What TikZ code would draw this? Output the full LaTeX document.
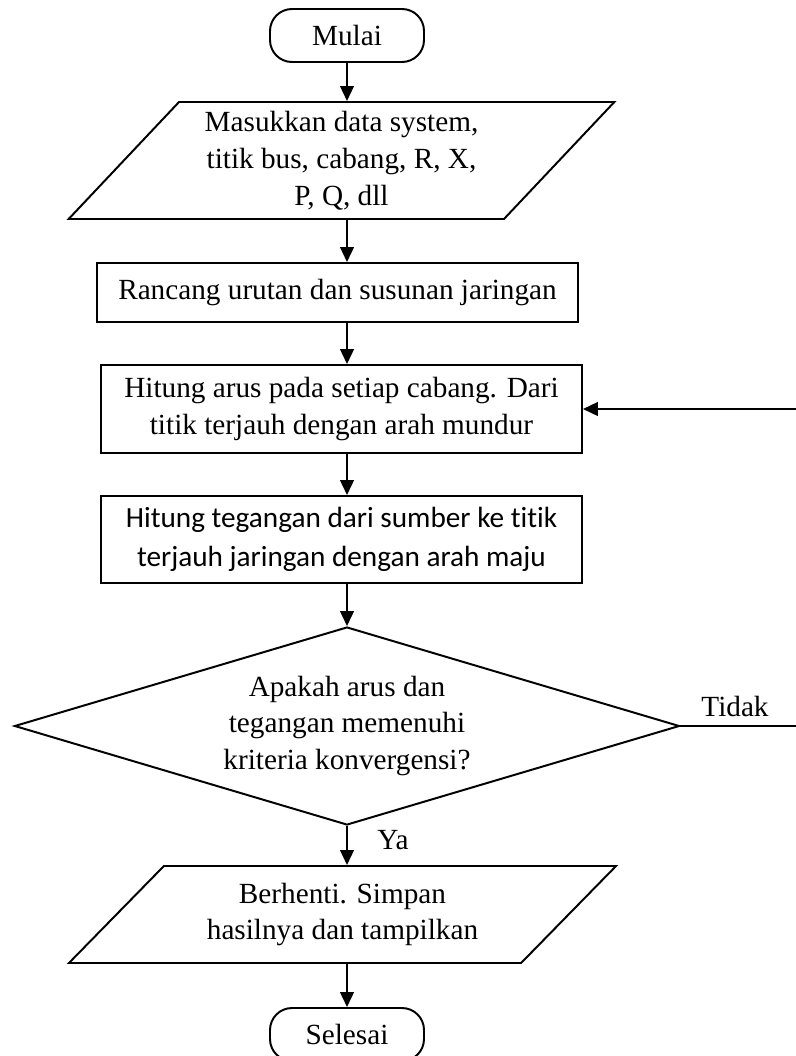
\documentclass[tikz,border=0pt]{standalone}
\usepackage{fontspec}
\setmainfont{Liberation Serif}
\newfontfamily\calibri[Ligatures=NoCommon]{Carlito}
\usetikzlibrary{shapes.geometric,arrows.meta}

\begin{document}
\begin{tikzpicture}[line width=1.4pt, font=\fontsize{20.8}{26.3}\selectfont,
    terminal/.style={draw, rectangle, rounded corners=0.55cm, minimum width=3.85cm, minimum height=1.325cm, inner sep=0pt},
    proses/.style={draw, rectangle, align=center, inner sep=0pt, minimum width=12.025cm},
    datain/.style={draw, trapezium, trapezium stretches=true, align=center, inner sep=0pt},
    keputusan/.style={draw, diamond, aspect=3.36, align=center, inner sep=0pt, minimum width=16.625cm, minimum height=4.95cm},
    panah/.style={-{Triangle[length=0.37cm,width=0.34cm]}},
    cabang/.style={inner sep=0pt}]
      \useasboundingbox (0,0) rectangle (19.875,-26.4);

      % Awal dan masukan
      \node (mulai) at (8.675,-0.8875) [terminal] {Mulai};
      \node (masuk) at (8.5375,-4.0125) [datain, trapezium left angle=46.8, trapezium right angle=133.2,
        minimum width=13.675cm, minimum height=2.925cm] {Masukkan data system,\\titik bus, cabang, R, X,\\P, Q, dll};

      % Proses
      \node (rancang) at (8.4375,-7.3125) [proses, minimum height=1.475cm] {Rancang urutan dan susunan jaringan};
      \node (hitung) at (8.5375,-10.225) [proses, minimum height=2.2cm] {Hitung arus pada setiap cabang. Dari\\titik terjauh dengan arah mundur};
      \node (tegangan) at (8.5375,-13.4875) [proses, minimum height=2.175cm,
        font=\calibri\fontsize{20.8}{28}\selectfont] {Hitung tegangan dari sumber ke titik\\terjauh jaringan dengan arah maju};

      % Keputusan
      \node (cek) at (8.675,-18.15) [keputusan] {Apakah arus dan\\tegangan memenuhi\\kriteria konvergensi?};

      % Akhir
      \node (berhenti) at (8.5625,-22.8625) [datain, trapezium left angle=41.4, trapezium right angle=138.6,
        minimum width=13.725cm, minimum height=2.425cm] {Berhenti. Simpan\\hasilnya dan tampilkan};
      \node (selesai) at (8.675,-25.8625) [terminal] {Selesai};

      % Label cabang
      \node (ya) at (9.825,-21.0) [cabang] {Ya};
      \node (tidak) at (18.375,-17.65) [cabang] {Tidak};
      \coordinate (balik) at (20,-10.225);

      % Panah
      \draw[panah] (mulai) -- (mulai |- masuk.north);
      \draw[panah] (masuk.south -| mulai) -- (rancang.north -| mulai);
      \draw[panah] (rancang.south -| mulai) -- (hitung.north -| mulai);
      \draw[panah] (hitung.south -| mulai) -- (tegangan.north -| mulai);
      \draw[panah] (tegangan.south -| mulai) -- (cek);
      \draw[panah] (cek) -- (berhenti.north -| mulai);
      \draw[panah] (berhenti.south -| mulai) -- (selesai);
      \draw[panah] (cek.east) -- (cek.east -| balik) |- (hitung.east);
    \end{tikzpicture}
\end{document}
